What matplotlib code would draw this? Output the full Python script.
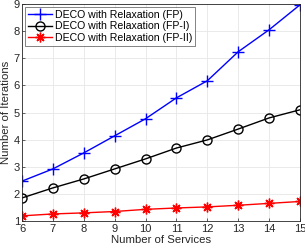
import matplotlib
matplotlib.use("Agg")
import matplotlib.pyplot as plt

plt.rcParams['font.family'] = ['Liberation Sans', 'DejaVu Sans']

services = [6, 7, 8, 9, 10, 11, 12, 13, 14, 15]
fp = [2.47, 2.92, 3.51, 4.14, 4.77, 5.54, 6.17, 7.24, 8.05, 8.97]
fp1 = [1.85, 2.22, 2.55, 2.92, 3.29, 3.69, 3.99, 4.39, 4.80, 5.10]
fp2 = [1.19, 1.26, 1.30, 1.35, 1.43, 1.48, 1.52, 1.58, 1.65, 1.72]
labels = ['DECO with Relaxation (FP)', 'DECO with Relaxation (FP-I)', 'DECO with Relaxation (FP-II)']

fig = plt.figure(figsize=(3.05, 2.49), dpi=100)
ax = fig.add_axes([22/305, 1 - 221/249, 278/305, 217/249])
ax.plot(services, fp, color='#0000ff', marker='+', markersize=8, mew=1.0, lw=1.0, label=labels[0])
ax.plot(services, fp1, color='black', marker='o', markersize=6.5, mfc='none', mew=1.0, lw=1.0, label=labels[1])
ax.plot(services, fp2, color='#ff0000', marker=(8, 2, 0), markersize=7, mew=1.0, lw=1.0, label=labels[2])

ax.set_xlim(6, 15)
ax.set_ylim(1, 9)
ax.set_xticks(services)
ax.set_yticks(range(1, 10))
ax.grid(True, color='#e6e6e6', lw=0.6)
ax.set_axisbelow(True)
ax.tick_params(direction='in', length=2.5, width=0.5, labelsize=8, colors='#262626', pad=2)
ax.tick_params(axis='y', pad=1.5)
for s in ax.spines.values():
    s.set_linewidth(0.6)
    s.set_color('#262626')
ax.set_xlabel('Number of Services', fontsize=8.2, color='#262626', labelpad=1)
ax.set_ylabel('Number of Iterations', fontsize=8.2, color='#262626', labelpad=0)
ax.yaxis.set_label_coords(-0.04, 0.5)
leg = ax.legend(loc='upper left', fontsize=7.6, frameon=True, fancybox=False, borderpad=0.25,
                labelspacing=0.15, handlelength=2.3, handletextpad=0.3, borderaxespad=0.3)
leg.get_frame().set_edgecolor('#262626')
leg.get_frame().set_linewidth(0.5)
fig.savefig('out.png', dpi=100)
